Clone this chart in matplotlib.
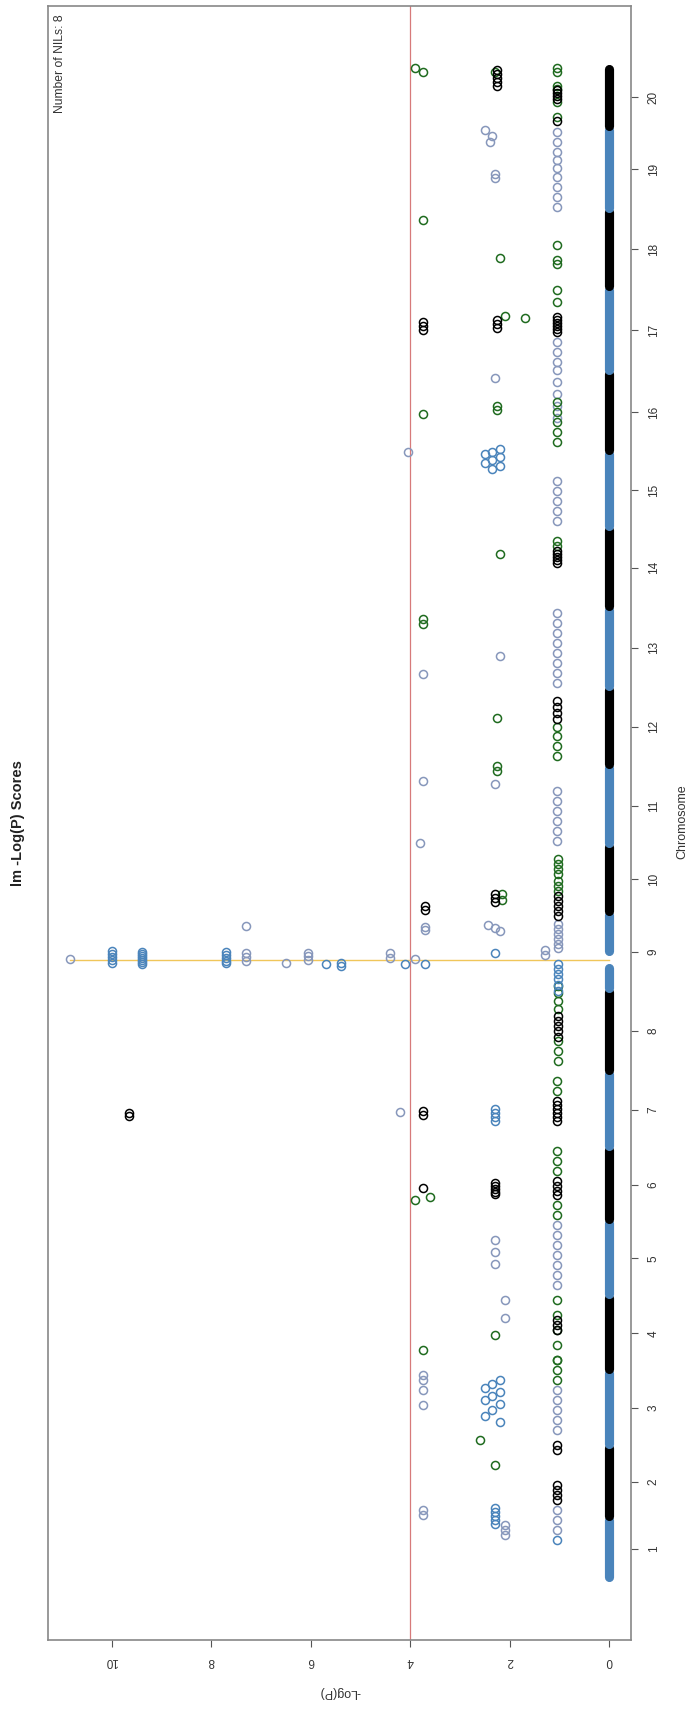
import matplotlib
matplotlib.use("Agg")
import matplotlib.pyplot as plt
import numpy as np

plt.rcParams['font.family'] = ['Liberation Sans', 'DejaVu Sans']

# chromosome lengths on the cumulative map (cM), chromosome 1 first
chrom_names = [str(i) for i in range(1, 21)]
chrom_len = [62, 72, 75, 75, 75, 73, 76, 82, 77, 68, 80, 78, 80, 80, 76, 80, 84, 78, 82, 62]

threshold = 4.0
peak_pos = 620.5
peak_score = 10.85
n_nils = 8

# stretch of the zero band left empty (its markers score high, at the peak)
gap_start, gap_end = 617.0, 624.5

# NIL marker scores, cumulative position + -log(P), one pair of arrays per colour
black_pos = [684.5, 679.5, 674.5, 669.5, 664.5, 674.5, 670.5, 686.5, 682.5, 678.5,
             564.5, 559.5, 554.5, 549.5, 543.5,
             1491.5, 1488.5, 1485.5, 1482.5, 1460.5, 1511.5, 1507.5, 1503.5, 1499.5, 1495.5,
             1264.5, 1261.5, 1258.5, 1255.5, 1252.5, 1249.5, 1261.5, 1257.5, 1253.5, 1259.5, 1255.5, 1251.5,
             1029.5, 1026.5, 1023.5, 1020.5, 1017.5,
             879.5, 873.5, 867.5, 861.5,
             467.5, 464.5, 469.5, 465.5, 479.5, 475.5, 471.5, 467.5, 463.5, 459.5,
             392.5, 397.5, 394.5, 391.5, 388.5, 385.5, 399.5, 394.5, 389.5, 384.5,
             259.5, 254.5, 249.5,
             134.5, 129.5, 94.5, 89.5, 84.5, 79.5]
black_score = [1.04, 1.04, 1.04, 1.04, 1.04, 3.7, 3.7, 2.3, 2.3, 2.3,
               1.04, 1.04, 1.04, 1.04, 1.04,
               1.05, 1.05, 1.05, 1.05, 1.05, 2.25, 2.25, 2.25, 2.25, 2.25,
               1.05, 1.05, 1.05, 1.05, 1.05, 1.05, 2.25, 2.25, 2.25, 3.75, 3.75, 3.75,
               1.05, 1.05, 1.05, 1.05, 1.05,
               1.05, 1.05, 1.05, 1.05,
               9.65, 9.65, 3.75, 3.75, 1.05, 1.05, 1.05, 1.05, 1.05, 1.05,
               3.75, 2.3, 2.3, 2.3, 2.3, 2.3, 1.05, 1.05, 1.05, 1.05,
               1.05, 1.05, 1.05,
               1.05, 1.05, 1.05, 1.05, 1.05, 1.05]

green_pos = [699.5, 694.5, 689.5, 721.5, 716.5, 711.5, 706.5, 686.5, 680.5,
             594.5, 587.5, 579.5, 571.5, 539.5, 529.5, 519.5,
             1513.5, 1509.5, 1495.5, 1492.5, 1479.5, 1464.5, 1509.5, 1509.5, 1513.5,
             1336.5, 1321.5, 1317.5, 1323.5, 1361.5,
             1291.5, 1279.5, 1265.5, 1263.5,
             1179.5, 1169.5, 1159.5, 1149.5, 1139.5, 1167.5, 1175.5, 1171.5,
             1039.5, 1034.5, 1026.5,
             961.5, 956.5,
             853.5, 844.5, 834.5, 824.5, 862.5,
             814.5, 809.5,
             499.5, 489.5,
             382.5, 379.5, 429.5, 419.5, 409.5, 374.5, 364.5,
             244.5, 279.5, 264.5, 249.5, 234.5, 219.5, 229.5,
             219.5, 209.5, 199.5,
             139.5, 114.5]
green_score = [1.04, 1.04, 1.04, 1.04, 1.04, 1.04, 1.04, 2.15, 2.15,
               1.04, 1.04, 1.04, 1.04, 1.04, 1.04, 1.04,
               1.05, 1.05, 1.05, 1.05, 1.05, 1.05, 2.3, 3.75, 3.9,
               1.05, 1.05, 1.05, 2.2, 3.75,
               1.05, 1.05, 2.1, 1.7,
               1.05, 1.05, 1.05, 1.05, 1.05, 3.75, 2.25, 2.25,
               1.05, 1.05, 2.2,
               3.75, 3.75,
               1.05, 1.05, 1.05, 1.05, 2.25,
               2.25, 2.25,
               1.05, 1.05,
               3.6, 3.9, 1.05, 1.05, 1.05, 1.05, 1.05,
               2.3, 1.05, 1.05, 1.05, 1.05, 1.05, 3.75,
               1.05, 1.05, 1.05,
               2.6, 2.3]

blue_pos = [629.5, 626.5, 623.5, 620.5, 617.5,
            628.5, 626.5, 624.5, 622.5, 620.5, 618.5, 616.5,
            628.5, 625.5, 622.5, 619.5, 617.5,
            616.5, 617.5, 614.5, 616.5, 616.5, 627.5,
            616.5, 611.5, 606.5, 601.5, 595.5, 589.5,
            1132.5, 1129.5, 1126.5, 1123.5, 1120.5, 1117.5, 1114.5, 1111.5,
            471.5, 467.5, 463.5, 459.5,
            199.5, 195.5, 191.5, 187.5, 183.5, 179.5, 175.5, 169.5, 163.5, 157.5,
            71.5, 67.5, 63.5, 59.5, 55.5, 39.5]
blue_score = [10.0, 10.0, 10.0, 10.0, 10.0,
              9.4, 9.4, 9.4, 9.4, 9.4, 9.4, 9.4,
              7.7, 7.7, 7.7, 7.7, 7.7,
              5.7, 5.4, 5.4, 4.1, 3.7, 2.3,
              1.04, 1.04, 1.04, 1.04, 1.04, 1.04,
              2.2, 2.35, 2.5, 2.2, 2.35, 2.5, 2.2, 2.35,
              2.3, 2.3, 2.3, 2.3,
              2.2, 2.35, 2.5, 2.2, 2.35, 2.5, 2.2, 2.35, 2.5, 2.2,
              2.3, 2.3, 2.3, 2.3, 2.3, 1.05]

grey_pos = [621.5, 654.5, 627.5, 623.5, 619.5, 617.5, 627.5, 624.5, 620.5,
            627.5, 622.5, 621.5, 653.5, 650.5, 655.5, 652.5, 649.5, 630.5, 625.5,
            656.5, 651.5, 646.5, 641.5, 636.5, 632.5,
            1449.5, 1439.5, 1429.5, 1421.5, 1413.5, 1404.5, 1394.5, 1384.5, 1374.5,
            1451.5, 1445.5, 1439.5, 1407.5, 1403.5,
            1239.5, 1229.5, 1219.5, 1211.5, 1203.5,
            1199.5, 1187.5, 1175.5, 1163.5,
            1129.5, 1099.5, 1089.5, 1079.5, 1069.5, 1059.5,
            967.5, 957.5, 947.5, 937.5, 927.5, 917.5, 907.5, 897.5, 924.5, 906.5,
            796.5, 799.5, 789.5, 779.5, 769.5, 759.5, 749.5, 739.5, 737.5,
            468.5,
            354.5, 344.5, 334.5, 324.5, 314.5, 304.5, 294.5, 339.5, 327.5, 315.5,
            279.5, 261.5,
            204.5, 199.5, 189.5, 174.5, 189.5, 179.5, 169.5, 159.5, 149.5,
            69.5, 64.5, 54.5, 49.5, 44.5, 69.5, 59.5, 49.5]
grey_score = [10.85, 7.3, 7.3, 7.3, 7.3, 6.5, 6.06, 6.06, 6.06,
              4.4, 4.4, 3.9, 3.7, 3.7, 2.45, 2.3, 2.2, 1.3, 1.3,
              1.04, 1.04, 1.04, 1.04, 1.04, 1.04,
              1.05, 1.05, 1.05, 1.05, 1.05, 1.05, 1.05, 1.05, 1.05,
              2.5, 2.35, 2.4, 2.3, 2.3,
              1.05, 1.05, 1.05, 1.05, 2.3,
              1.05, 1.05, 1.05, 1.05,
              4.05, 1.05, 1.05, 1.05, 1.05, 1.05,
              1.05, 1.05, 1.05, 1.05, 1.05, 1.05, 1.05, 1.05, 2.2, 3.75,
              2.3, 3.75, 1.05, 1.05, 1.05, 1.05, 1.05, 1.05, 3.8,
              4.2,
              1.05, 1.05, 1.05, 1.05, 1.05, 1.05, 1.05, 2.3, 2.3, 2.3,
              2.1, 2.1,
              3.75, 3.75, 3.75, 3.75, 1.05, 1.05, 1.05, 1.05, 1.05,
              3.75, 3.75, 2.1, 2.1, 2.1, 1.05, 1.05, 1.05]

# cumulative map
chrom_end = np.cumsum(chrom_len)
chrom_start = chrom_end - np.array(chrom_len)
chrom_mid = (chrom_start + chrom_end) / 2
total = chrom_end[-1]

W, H = 694, 1711
fig = plt.figure(figsize=(W / 100, H / 100), dpi=100)
ax = fig.add_axes([48 / W, 71 / H, 583 / W, 1634 / H])

blue = '#4a84bb'
grey = '#8797bb'
green = '#1f6b1f'

# markers not in any NIL sit at zero, coloured by chromosome
cap = 4.5  # round cap reach in map units
for i in range(len(chrom_len)):
    col = blue if i % 2 == 0 else 'black'
    lo, hi = chrom_start[i] + 2, chrom_end[i] - 2
    if lo < gap_start < hi:
        pieces = [(lo, gap_start - cap), (gap_end + cap, hi)]
    else:
        pieces = [(lo, hi)]
    for a, b in pieces:
        ax.plot([0, 0], [a, b], color=col, lw=6.6, solid_capstyle='round', zorder=2)

mk = dict(ls='none', marker='o', mfc='none', ms=5.8, mew=1.1, zorder=3)
ax.plot(grey_score, grey_pos, mec=grey, **mk)
ax.plot(green_score, green_pos, mec=green, **mk)
ax.plot(blue_score, blue_pos, mec=blue, **mk)
ax.plot(black_score, black_pos, mec='black', **mk)

ax.axvline(threshold, color='#d77a7a', lw=0.9, zorder=1)
ax.plot([0, peak_score], [peak_pos, peak_pos], color='#f0c65a', lw=1.0, zorder=1)

ax.set_xlim(peak_score * 1.04, -peak_score * 0.04)
ax.set_ylim(-total * 0.04, total * 1.04)

for s in ax.spines.values():
    s.set_color('#888888')
    s.set_linewidth(1.2)

ax.set_xticks([0, 2, 4, 6, 8, 10])
ax.set_xticklabels(['0', '2', '4', '6', '8', '10'], rotation=180, fontsize=8.5, color='#333333')
ax.tick_params(axis='x', direction='out', length=5, width=0.8, color='#555555', pad=6)
ax.yaxis.tick_right()
ax.set_yticks(chrom_mid)
ax.set_yticklabels(chrom_names, rotation=90, fontsize=8.5, color='#333333', va='center')
ax.tick_params(axis='y', direction='out', length=5, width=0.8, color='#555555', pad=7)

fig.text(340 / W, 1 - 1692 / H, '-Log(P)', rotation=180, ha='center', va='center',
         fontsize=9, color='#333333')
fig.text(682 / W, 1 - 822 / H, 'Chromosome', rotation=90, ha='center', va='center',
         fontsize=9, color='#333333')
fig.text(18 / W, 1 - 823 / H, 'lm -Log(P) Scores', rotation=90, ha='center', va='center',
         fontsize=10.5, fontweight='bold', color='#222222')
fig.text(60 / W, 1 - 64 / H, 'Number of NILs: %d' % n_nils, rotation=90, ha='center', va='center',
         fontsize=8.7, color='#333333')

fig.savefig('out.png', dpi=100)
